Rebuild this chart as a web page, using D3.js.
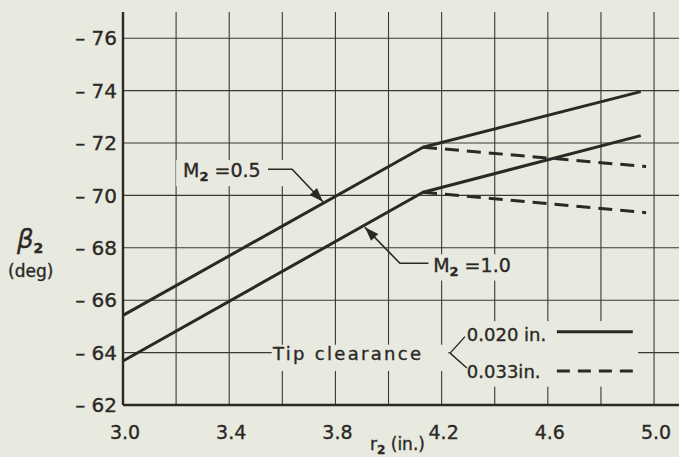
<!DOCTYPE html>
<html><head><meta charset="utf-8">
<script src="https://cdn.jsdelivr.net/npm/d3@7"></script>
<style>
html,body{margin:0;padding:0;background:#e8e9df;}
svg{display:block;}
text{font-family:"DejaVu Sans",sans-serif;fill:#2b2826;stroke:#2b2826;stroke-width:0.35px;}
</style></head><body>
<svg id="c" width="679" height="457"></svg>
<script>
// ---- data ----
const yTicks = [62, 64, 66, 68, 70, 72, 74, 76];
const xTicks = [3.0, 3.4, 3.8, 4.2, 4.6, 5.0];
const xGrid = [3.2, 3.4, 3.6, 3.8, 4.0, 4.2, 4.4, 4.6, 4.8, 5.0];
// tip clearance 0.020 in. (solid)
const rSolid = [3.0, 4.13, 4.95];
const betaM05 = [65.42, 71.84, 73.96];
const betaM10 = [63.68, 70.12, 72.28];
// tip clearance 0.033 in. (dashed)
const rDash = [4.13, 4.97];
const betaM05dash = [71.84, 71.1];
const betaM10dash = [70.12, 69.34];

const W = 679, H = 457;
const svg = d3.select("#c");
const bg = "#e8e9df", ink = "#2b2826";
const x = d3.scaleLinear().domain([3.0, 5.1]).range([123, 680.6]);
const y = d3.scaleLinear().domain([62, 77]).range([405, 12]);

svg.append("rect").attr("width", W).attr("height", H).attr("fill", bg);

// grid
const g = svg.append("g");
g.selectAll(".vg").data(xGrid).enter().append("line")
  .attr("x1", d => x(d)).attr("x2", d => x(d))
  .attr("y1", y(77)).attr("y2", y(62))
  .attr("stroke", "#3a3836").attr("stroke-width", 1.1);
g.selectAll(".hg").data(yTicks.filter(v => v > 62)).enter().append("line")
  .attr("x1", x(3.0)).attr("x2", W)
  .attr("y1", d => y(d)).attr("y2", d => y(d))
  .attr("stroke", "#3a3836").attr("stroke-width", 1.1);

// background patches (break grid around labels)
function patch(x0, y0, x1, y1) {
  svg.append("rect").attr("x", x(x0)).attr("y", y(y1))
    .attr("width", x(x1) - x(x0)).attr("height", y(y0) - y(y1)).attr("fill", bg);
}
patch(3.2, 70.35, 3.66, 71.35);
patch(4.15, 66.75, 4.46, 67.75);
patch(3.56, 63.3, 4.225, 64.3);
patch(4.23, 62.7, 4.94, 65.2);

// axes
svg.append("line").attr("x1", x(3.0)).attr("x2", x(3.0)).attr("y1", y(77)).attr("y2", y(62))
  .attr("stroke", ink).attr("stroke-width", 2.4);
svg.append("line").attr("x1", x(3.0)).attr("x2", W).attr("y1", y(62)).attr("y2", y(62))
  .attr("stroke", ink).attr("stroke-width", 2.6);

// y tick labels
svg.selectAll(".yl").data(yTicks).enter().append("text")
  .attr("x", 117).attr("y", d => y(d)).attr("dy", "0.36em")
  .attr("text-anchor", "end").style("font-size", "20px")
  .text(d => "\u2013 " + d);
// x tick labels
svg.selectAll(".xl").data(xTicks).enter().append("text")
  .attr("x", d => x(d) + 2).attr("y", 439)
  .attr("text-anchor", "middle").style("font-size", "19px")
  .text(d => d.toFixed(1));

// data lines
const line = d3.line().x(d => x(d[0])).y(d => y(d[1]));
function draw(rs, bs, dash) {
  svg.append("path").datum(d3.zip(rs, bs)).attr("d", line)
    .attr("fill", "none").attr("stroke", ink).attr("stroke-width", 3)
    .attr("stroke-linejoin", "round")
    .attr("stroke-dasharray", dash ? "14,8" : null);
}
draw(rSolid, betaM05, false);
draw(rSolid, betaM10, false);
draw(rDash, betaM05dash, true);
draw(rDash, betaM10dash, true);

// annotations
function leader(pts) {
  svg.append("path").datum(pts).attr("d", line).attr("fill", "none")
    .attr("stroke", ink).attr("stroke-width", 1.6);
  const a = pts[pts.length - 2], b = pts[pts.length - 1];
  const ax = x(a[0]), ay = y(a[1]), bx = x(b[0]), by = y(b[1]);
  const ang = Math.atan2(by - ay, bx - ax);
  const L = 14, w = 5;
  const p = [[bx, by],
    [bx - L * Math.cos(ang) + w * Math.sin(ang), by - L * Math.sin(ang) - w * Math.cos(ang)],
    [bx - L * Math.cos(ang) - w * Math.sin(ang), by - L * Math.sin(ang) + w * Math.cos(ang)]];
  svg.append("path").attr("d", "M" + p.join("L") + "Z").attr("fill", ink);
}
leader([[3.546, 71.0], [3.637, 71.0], [3.753, 69.76]]);
leader([[4.15, 67.41], [4.043, 67.41], [3.911, 68.78]]);

function mlabel(r, b, val) {
  const t = svg.append("text").attr("x", x(r)).attr("y", y(b)).style("font-size", "19px");
  t.append("tspan").text("M");
  t.append("tspan").attr("dy", 4).style("font-size", "13px").style("font-weight", "bold").text("2");
  t.append("tspan").attr("dy", -4).text(" =" + val);
}
mlabel(3.226, 70.70, "0.5");
mlabel(4.168, 67.09, "1.0");

// legend
svg.append("text").attr("x", x(3.565)).attr("y", y(63.72)).style("font-size", "18px")
  .style("letter-spacing", "2.3px").text("Tip  clearance");
svg.append("path").datum([[4.288, 64.61], [4.232, 63.98], [4.295, 63.41]]).attr("d", line)
  .attr("fill", "none").attr("stroke", ink).attr("stroke-width", 1.4);
svg.append("text").attr("x", x(4.295)).attr("y", y(64.45)).style("font-size", "18px").text("0.020 in.");
svg.append("text").attr("x", x(4.295)).attr("y", y(63.02)).style("font-size", "18px").text("0.033in.");
svg.append("line").attr("x1", x(4.634)).attr("x2", x(4.92)).attr("y1", y(64.8)).attr("y2", y(64.8))
  .attr("stroke", ink).attr("stroke-width", 3);
svg.append("line").attr("x1", x(4.634)).attr("x2", x(4.92)).attr("y1", y(63.3)).attr("y2", y(63.3))
  .attr("stroke", ink).attr("stroke-width", 3).attr("stroke-dasharray", "13,8");

// axis titles
const yt = svg.append("text").attr("x", 17).attr("y", 248);
yt.append("tspan").style("font-size", "26px").style("font-style", "italic").text("\u03B2");
yt.append("tspan").attr("dy", 5).style("font-size", "14px").style("font-weight", "bold").text("2");
svg.append("text").attr("x", 8).attr("y", 277).style("font-size", "17px").text("(deg)");
const xt = svg.append("text").attr("x", 370).attr("y", 450).style("font-size", "17px");
xt.append("tspan").text("r");
xt.append("tspan").attr("dy", 4).style("font-size", "12px").style("font-weight", "bold").text("2");
xt.append("tspan").attr("dy", -4).text(" (in.)");
</script>
</body></html>
